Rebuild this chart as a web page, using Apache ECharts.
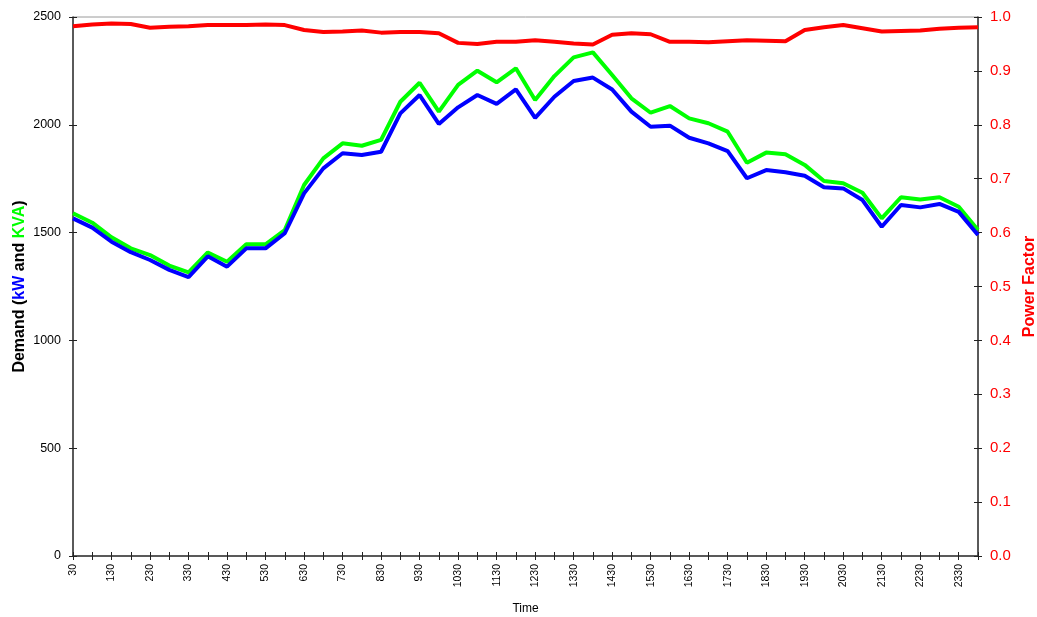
<!DOCTYPE html>
<html>
<head>
<meta charset="utf-8">
<script src="https://cdn.jsdelivr.net/npm/echarts@6.0.0/dist/echarts.min.js"></script>
<style>
html,body{margin:0;padding:0;background:#fff;}
#chart{width:1037px;height:617px;}
</style>
</head>
<body>
<div id="chart"></div>
<script>
var times = ['30','100','130','200','230','300','330','400','430','500','530','600','630','700','730','800','830','900','930','1000','1030','1100','1130','1200','1230','1300','1330','1400','1430','1500','1530','1600','1630','1700','1730','1800','1830','1900','1930','2000','2030','2100','2130','2200','2230','2300','2330','2400'];
var kW = [1566,1523,1458,1409,1373,1327,1294,1390,1342,1427,1427,1497,1682,1798,1868,1860,1875,2053,2138,2004,2081,2138,2097,2164,2032,2130,2203,2219,2164,2061,1991,1996,1940,1914,1878,1752,1790,1780,1764,1710,1705,1651,1527,1628,1617,1633,1596,1489];
var kVA = [1590,1546,1478,1427,1396,1347,1316,1408,1365,1446,1446,1512,1721,1844,1914,1903,1930,2107,2195,2061,2185,2251,2197,2262,2115,2226,2313,2336,2231,2123,2056,2087,2030,2007,1968,1824,1871,1863,1814,1739,1729,1685,1566,1664,1654,1664,1620,1512];
var pf = [0.983,0.986,0.988,0.987,0.980,0.982,0.983,0.985,0.985,0.985,0.986,0.985,0.976,0.972,0.973,0.975,0.971,0.972,0.972,0.970,0.952,0.950,0.954,0.954,0.957,0.954,0.951,0.949,0.967,0.970,0.968,0.954,0.954,0.953,0.955,0.957,0.956,0.955,0.976,0.981,0.985,0.979,0.973,0.974,0.975,0.978,0.980,0.981];

var FONT = '"Liberation Sans", Arial, sans-serif';
var chart = echarts.init(document.getElementById('chart'));
var gridRect = {left:73, right:59, top:17, bottom:61, containLabel:false, outerBoundsMode:'none'};
chart.setOption({
  animation:false,
  backgroundColor:'#ffffff',
  textStyle:{fontFamily:FONT},
  grid:[
    Object.assign({show:true, borderColor:'#9a9a9a', borderWidth:1, backgroundColor:'transparent'}, gridRect),
    Object.assign({show:false}, gridRect)
  ],
  xAxis:[
    {
      type:'category', gridIndex:0, data:times, boundaryGap:false, position:'bottom',
      name:'Time', nameLocation:'middle', nameGap:47, nameMoveOverlap:false,
      nameTextStyle:{color:'#000', fontSize:12, fontFamily:FONT},
      axisLine:{show:true, lineStyle:{color:'#333', width:1.5}},
      axisTick:{show:true, interval:0, length:4, lineStyle:{color:'#222'}},
      axisLabel:{interval:1, rotate:90, fontSize:10.5, color:'#000', margin:8, fontFamily:FONT},
      splitLine:{show:false}
    },
    {
      type:'category', gridIndex:1, data:times, boundaryGap:false, position:'bottom',
      axisLine:{show:false},
      axisTick:{show:true, inside:true, interval:0, length:4, lineStyle:{color:'#222'}},
      axisLabel:{show:false}, splitLine:{show:false}
    }
  ],
  yAxis:[
    {
      type:'value', gridIndex:0, position:'left', min:0, max:2500, interval:500,
      name:'{a|Demand (}{b|kW}{a| and }{c|KVA}{a|)}',
      nameLocation:'middle', nameGap:45, nameMoveOverlap:false,
      nameTextStyle:{
        fontSize:16, fontWeight:'bold', fontFamily:FONT,
        rich:{
          a:{color:'#000', fontSize:16, fontWeight:'bold', fontFamily:FONT},
          b:{color:'#0000ff', fontSize:16, fontWeight:'bold', fontFamily:FONT},
          c:{color:'#00ff00', fontSize:16, fontWeight:'bold', fontFamily:FONT}
        }
      },
      axisLine:{show:true, lineStyle:{color:'#333', width:1.5}},
      axisTick:{show:true, length:4, lineStyle:{color:'#222'}},
      axisLabel:{color:'#000', fontSize:12.5, margin:12, fontFamily:FONT,
        formatter:function(v){return String(v);}},
      splitLine:{show:false}
    },
    {
      type:'value', gridIndex:0, position:'right', min:0, max:1, interval:0.1,
      name:'Power Factor', nameLocation:'middle', nameGap:44, nameMoveOverlap:false,
      nameTextStyle:{color:'#ff0000', fontSize:16, fontWeight:'bold', fontFamily:FONT},
      axisLine:{show:true, lineStyle:{color:'#333', width:1.5}},
      axisTick:{show:true, length:4, lineStyle:{color:'#222'}},
      axisLabel:{color:'#ff0000', fontSize:15, margin:12, fontFamily:FONT,
        formatter:function(v){return v.toFixed(1);}},
      splitLine:{show:false}
    },
    {
      type:'value', gridIndex:1, position:'left', min:0, max:2500, interval:500,
      axisLine:{show:false},
      axisTick:{show:true, inside:true, length:4, lineStyle:{color:'#222'}},
      axisLabel:{show:false}, splitLine:{show:false}
    },
    {
      type:'value', gridIndex:1, position:'right', min:0, max:1, interval:0.1,
      axisLine:{show:false},
      axisTick:{show:true, inside:true, length:4, lineStyle:{color:'#222'}},
      axisLabel:{show:false}, splitLine:{show:false}
    }
  ],
  series:[
    {name:'kVA', type:'line', xAxisIndex:0, yAxisIndex:0, data:kVA, symbol:'none', smooth:false,
      lineStyle:{color:'#00ff00', width:4}, itemStyle:{color:'#00ff00'}, z:2},
    {name:'kW', type:'line', xAxisIndex:0, yAxisIndex:0, data:kW, symbol:'none', smooth:false,
      lineStyle:{color:'#0000ff', width:4}, itemStyle:{color:'#0000ff'}, z:3},
    {name:'Power Factor', type:'line', xAxisIndex:0, yAxisIndex:1, data:pf, symbol:'none', smooth:false,
      lineStyle:{color:'#ff0000', width:4}, itemStyle:{color:'#ff0000'}, z:4}
  ]
});
</script>
</body>
</html>
